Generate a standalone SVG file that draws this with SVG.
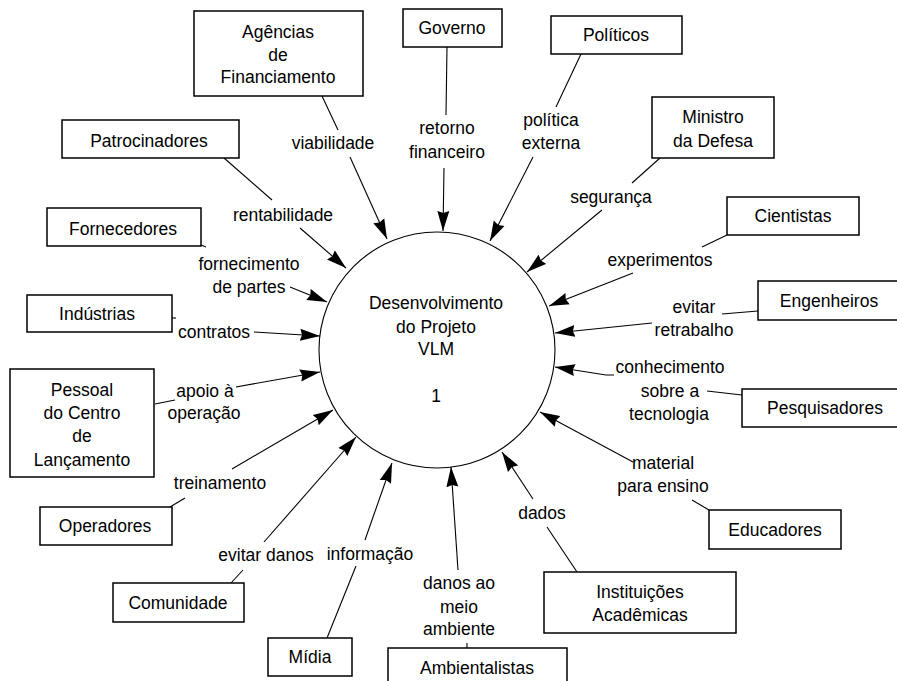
<svg xmlns="http://www.w3.org/2000/svg" width="897" height="681" viewBox="0 0 897 681">
<style>
text{font-family:"Liberation Sans",Arial,sans-serif;font-size:17.5px;fill:#000;text-anchor:middle}
.box{fill:#fff;stroke:#000;stroke-width:1.5}
.c line,.c polyline{stroke:#000;stroke-width:1.1;fill:none}
.a{marker-end:url(#ah)}
</style>
<defs>
<marker id="ah" markerUnits="userSpaceOnUse" markerWidth="21" markerHeight="13" refX="20" refY="6.5" orient="auto">
<path d="M0,0.5 L20,6.5 L0,12.5 L2,6.5 z" fill="#000"/>
</marker>
</defs>
<rect width="897" height="681" fill="#fff"/>
<g id="process">
<circle cx="437" cy="350" r="118" fill="#fff" stroke="#000" stroke-width="1.1"/>
<text x="436" y="309">Desenvolvimento</text>
<text x="436" y="333">do Projeto</text>
<text x="436" y="355">VLM</text>
<text x="436" y="402">1</text>
</g>
<g class="c" id="connectors">
<line x1="322" y1="96" x2="338" y2="130"/><line class="a" x1="350" y1="157" x2="387" y2="239"/>
<line x1="447" y1="47" x2="446" y2="115"/><line class="a" x1="444" y1="168" x2="443" y2="231"/>
<line x1="581" y1="54" x2="556" y2="107"/><line class="a" x1="533" y1="157" x2="490" y2="241"/>
<line x1="660" y1="158" x2="632" y2="183"/><line class="a" x1="602" y1="210" x2="527" y2="272"/>
<line x1="727" y1="235" x2="702" y2="247"/><line class="a" x1="633" y1="273" x2="549" y2="306"/>
<line x1="758" y1="311" x2="722" y2="314"/><line class="a" x1="652" y1="323" x2="555" y2="333"/>
<line x1="742" y1="395" x2="707" y2="391"/><polyline class="a" points="614,375 606,375 555,367"/>
<line x1="709" y1="510" x2="692" y2="500"/><line class="a" x1="633" y1="462" x2="540" y2="412"/>
<line x1="577" y1="572" x2="547" y2="527"/><line class="a" x1="533" y1="499" x2="502" y2="452"/>
<line x1="467" y1="648" x2="467" y2="643"/><line class="a" x1="458" y1="570" x2="451" y2="467"/>
<line x1="327" y1="638" x2="356" y2="566"/><line class="a" x1="365" y1="540" x2="392" y2="463"/>
<line x1="231" y1="583" x2="243" y2="570"/><line class="a" x1="264" y1="542" x2="356" y2="437"/>
<line x1="170" y1="507" x2="185" y2="498"/><line class="a" x1="232" y1="469" x2="333" y2="410"/>
<line x1="155" y1="404" x2="175" y2="400"/><line class="a" x1="236" y1="387" x2="320" y2="372"/>
<line x1="172" y1="318" x2="176" y2="318"/><line class="a" x1="254" y1="332" x2="320" y2="336"/>
<line x1="201" y1="245" x2="206" y2="247"/><line class="a" x1="290" y1="287" x2="327" y2="302"/>
<line x1="224" y1="158" x2="272" y2="200"/><line class="a" x1="300" y1="228" x2="346" y2="268"/>
</g>
<g id="labels">
<text x="333" y="149">viabilidade</text>
<text x="447" y="134">retorno</text><text x="447" y="158">financeiro</text>
<text x="551" y="126">política</text><text x="551" y="149">externa</text>
<text x="611" y="203">segurança</text>
<text x="660" y="266">experimentos</text>
<text x="694" y="313">evitar</text><text x="694" y="336">retrabalho</text>
<text x="670" y="373">conhecimento</text><text x="670" y="397">sobre a</text><text x="669" y="420">tecnologia</text>
<text x="663" y="469">material</text><text x="663" y="492">para ensino</text>
<text x="542" y="519">dados</text>
<text x="459" y="589">danos ao</text><text x="459" y="613">meio</text><text x="459" y="635">ambiente</text>
<text x="370" y="560">informação</text>
<text x="266" y="561">evitar danos</text>
<text x="220" y="489">treinamento</text>
<text x="205" y="397">apoio à</text><text x="204" y="419">operação</text>
<text x="214" y="338">contratos</text>
<text x="249" y="270">fornecimento</text><text x="249" y="293">de partes</text>
<text x="283" y="221">rentabilidade</text>
</g>
<g id="agencias"><rect class="box" x="194" y="11" width="169" height="85"/><text x="278" y="38">Agências</text><text x="278" y="61">de</text><text x="278" y="83">Financiamento</text></g>
<g id="governo"><rect class="box" x="403" y="9" width="99" height="38"/><text x="452" y="34">Governo</text></g>
<g id="politicos"><rect class="box" x="551" y="16" width="131" height="38"/><text x="616" y="41">Políticos</text></g>
<g id="ministro"><rect class="box" x="652" y="97" width="122" height="61"/><text x="713" y="123">Ministro</text><text x="713" y="147">da Defesa</text></g>
<g id="cientistas"><rect class="box" x="727" y="197" width="132" height="38"/><text x="793" y="222">Cientistas</text></g>
<g id="engenheiros"><rect class="box" x="758" y="281" width="150" height="39"/><text x="829" y="307">Engenheiros</text></g>
<g id="pesquisadores"><rect class="box" x="742" y="389" width="166" height="38"/><text x="825" y="414">Pesquisadores</text></g>
<g id="educadores"><rect class="box" x="709" y="510" width="132" height="39"/><text x="775" y="536">Educadores</text></g>
<g id="instituicoes"><rect class="box" x="544" y="572" width="192" height="61"/><text x="640" y="598">Instituições</text><text x="640" y="621">Acadêmicas</text></g>
<g id="ambientalistas"><rect class="box" x="388" y="648" width="179" height="45"/><text x="477" y="674">Ambientalistas</text></g>
<g id="midia"><rect class="box" x="268" y="638" width="84" height="38"/><text x="310" y="663">Mídia</text></g>
<g id="comunidade"><rect class="box" x="113" y="583" width="131" height="39"/><text x="178" y="609">Comunidade</text></g>
<g id="operadores"><rect class="box" x="40" y="507" width="132" height="38"/><text x="105" y="532">Operadores</text></g>
<g id="pessoal"><rect class="box" x="10" y="369" width="144" height="108"/><text x="82" y="396">Pessoal</text><text x="82" y="419">do Centro</text><text x="82" y="442">de</text><text x="82" y="466">Lançamento</text></g>
<g id="industrias"><rect class="box" x="27" y="295" width="145" height="37"/><text x="97" y="320">Indústrias</text></g>
<g id="fornecedores"><rect class="box" x="47" y="208" width="154" height="38"/><text x="123" y="235">Fornecedores</text></g>
<g id="patrocinadores"><rect class="box" x="62" y="120" width="177" height="38"/><text x="149" y="147">Patrocinadores</text></g>
</svg>
